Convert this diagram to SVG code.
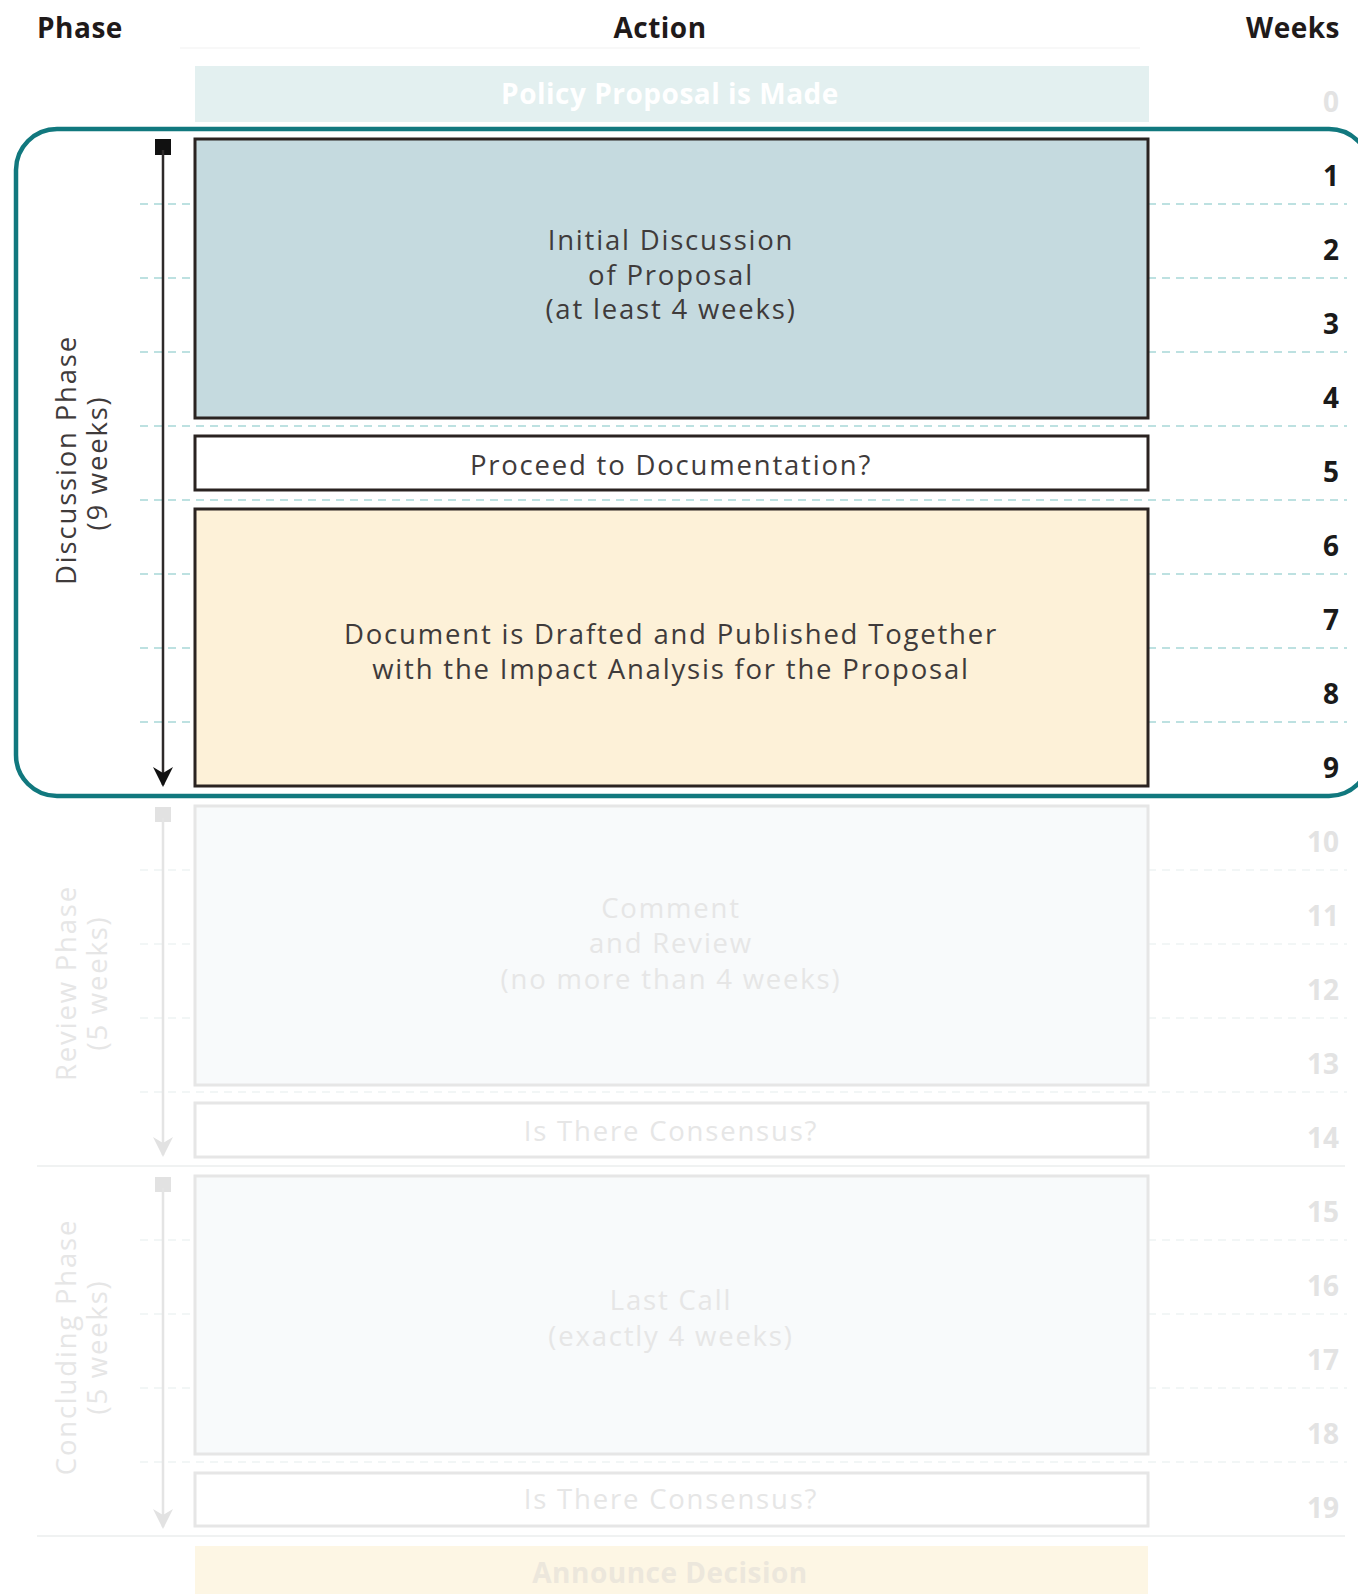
<svg xmlns="http://www.w3.org/2000/svg" width="1358" height="1594" viewBox="0 0 1358 1594">
<style>
.t{font-family:"Open Sans","Liberation Sans",sans-serif;font-size:27.5px;letter-spacing:1.8px;fill:#3f3b3b;text-anchor:middle}
.tf{fill:#e6e6e6}
.h{font-family:"Open Sans","Liberation Sans",sans-serif;font-weight:700;font-size:28px;letter-spacing:0.5px;fill:#1f1a1a}
.wk{font-family:"Open Sans","Liberation Sans",sans-serif;font-weight:700;font-size:28px;fill:#1a1a1a;text-anchor:end}
.wkf{fill:#e3e3e3}
.box{stroke:#2a2321;stroke-width:3}
.boxf{stroke:#e6e6e6;stroke-width:3}
.g{stroke:#a8d8d8;stroke-width:1.5;stroke-dasharray:8 6;fill:none}
.gf{stroke:#eef3f3;stroke-width:1.5;stroke-dasharray:8 6;fill:none}
.sep{stroke:#f0f2f2;stroke-width:2}
</style>
<defs>
<marker id="ah" viewBox="0 0 20 20" refX="18" refY="10" markerWidth="20" markerHeight="20" markerUnits="userSpaceOnUse" orient="auto">
<path d="M0,0 L6,10 L0,20 L20,10 Z" fill="#111"/>
</marker>
<marker id="ahf" viewBox="0 0 20 20" refX="18" refY="10" markerWidth="20" markerHeight="20" markerUnits="userSpaceOnUse" orient="auto">
<path d="M0,0 L6,10 L0,20 L20,10 Z" fill="#e2e2e2"/>
</marker>
</defs>
<rect width="1358" height="1594" fill="#fff"/>

<g id="headers">
<text class="h" x="37" y="38">Phase</text>
<text class="h" x="660" y="38" text-anchor="middle">Action</text>
<text class="h" x="1340" y="38" text-anchor="end">Weeks</text>
<line x1="180" y1="48" x2="1140" y2="48" stroke="#f8f8f8" stroke-width="2"/>
</g>

<g id="grid">
<path class="g" d="M140 204H193M1148 204H1347M140 278H193M1148 278H1347M140 352H193M1148 352H1347M140 426H1347M140 500H1347M140 574H193M1148 574H1347M140 648H193M1148 648H1347M140 722H193M1148 722H1347"/>
<path class="gf" d="M140 870H193M1148 870H1347M140 944H193M1148 944H1347M140 1018H193M1148 1018H1347M140 1092H1347M140 1240H193M1148 1240H1347M140 1314H193M1148 1314H1347M140 1388H193M1148 1388H1347M140 1462H1347"/>
<line class="sep" x1="37" y1="1166" x2="1345" y2="1166"/>
<line class="sep" x1="37" y1="1536" x2="1345" y2="1536"/>
</g>

<g id="weeks">
<text class="wk wkf" x="1339" y="112">0</text>
<text class="wk" x="1339" y="186">1</text>
<text class="wk" x="1339" y="260">2</text>
<text class="wk" x="1339" y="334">3</text>
<text class="wk" x="1339" y="408">4</text>
<text class="wk" x="1339" y="482">5</text>
<text class="wk" x="1339" y="556">6</text>
<text class="wk" x="1339" y="630">7</text>
<text class="wk" x="1339" y="704">8</text>
<text class="wk" x="1339" y="778">9</text>
<text class="wk wkf" x="1339" y="852">10</text>
<text class="wk wkf" x="1339" y="926">11</text>
<text class="wk wkf" x="1339" y="1000">12</text>
<text class="wk wkf" x="1339" y="1074">13</text>
<text class="wk wkf" x="1339" y="1148">14</text>
<text class="wk wkf" x="1339" y="1222">15</text>
<text class="wk wkf" x="1339" y="1296">16</text>
<text class="wk wkf" x="1339" y="1370">17</text>
<text class="wk wkf" x="1339" y="1444">18</text>
<text class="wk wkf" x="1339" y="1518">19</text>
</g>

<g id="policy">
<rect x="195" y="66" width="954" height="56" fill="#e3f0f0"/>
<text class="h" x="670" y="104" text-anchor="middle" style="fill:#fff">Policy Proposal is Made</text>
</g>

<g id="initial-discussion">
<rect class="box" x="195" y="139" width="953" height="279" fill="#c5dadf"/>
<text class="t" x="671" y="250">Initial Discussion</text>
<text class="t" x="671" y="284.5">of Proposal</text>
<text class="t" x="671" y="319">(at least 4 weeks)</text>
</g>

<g id="proceed">
<rect class="box" x="195" y="436" width="953" height="54" fill="#fff"/>
<text class="t" x="671" y="475">Proceed to Documentation?</text>
</g>

<g id="document">
<rect class="box" x="195" y="509" width="953" height="277" fill="#fdf1d8"/>
<text class="t" x="671" y="644">Document is Drafted and Published Together</text>
<text class="t" x="671" y="679">with the Impact Analysis for the Proposal</text>
</g>

<g id="comment-review">
<rect class="boxf" x="195" y="806" width="953" height="279" fill="#f8fafb"/>
<text class="t tf" x="671" y="918">Comment</text>
<text class="t tf" x="671" y="953">and Review</text>
<text class="t tf" x="671" y="989">(no more than 4 weeks)</text>
</g>

<g id="consensus-1">
<rect class="boxf" x="195" y="1103" width="953" height="54" fill="#fff"/>
<text class="t tf" x="671" y="1141">Is There Consensus?</text>
</g>

<g id="last-call">
<rect class="boxf" x="195" y="1176" width="953" height="278" fill="#f8fafb"/>
<text class="t tf" x="671" y="1310">Last Call</text>
<text class="t tf" x="671" y="1346">(exactly 4 weeks)</text>
</g>

<g id="consensus-2">
<rect class="boxf" x="195" y="1473" width="953" height="53" fill="#fff"/>
<text class="t tf" x="671" y="1509">Is There Consensus?</text>
</g>

<g id="announce">
<rect x="195" y="1546" width="953" height="60" fill="#fdf6e4"/>
<text class="h" x="670" y="1583" text-anchor="middle" style="fill:#ece7dc">Announce Decision</text>
</g>

<g id="discussion-phase">
<rect x="16" y="129" width="1354" height="667" rx="41" ry="41" fill="none" stroke="#11787e" stroke-width="4.5"/>
<text class="t" transform="translate(76,460) rotate(-90)">Discussion Phase</text>
<text class="t" transform="translate(107,463) rotate(-90)">(9 weeks)</text>
</g>

<g id="review-phase">
<text class="t tf" transform="translate(76,983) rotate(-90)">Review Phase</text>
<text class="t tf" transform="translate(107,983) rotate(-90)">(5 weeks)</text>
</g>

<g id="concluding-phase">
<text class="t tf" transform="translate(76,1347) rotate(-90)">Concluding Phase</text>
<text class="t tf" transform="translate(107,1347) rotate(-90)">(5 weeks)</text>
</g>

<g id="connectors">
<rect x="155" y="139" width="16" height="16" fill="#111"/>
<line x1="163" y1="150" x2="163" y2="785" stroke="#2e2a2a" stroke-width="2.5" marker-end="url(#ah)"/>
<rect x="155" y="807" width="16" height="15" fill="#e2e2e2"/>
<line x1="163" y1="818" x2="163" y2="1155" stroke="#e4e4e4" stroke-width="2.5" marker-end="url(#ahf)"/>
<rect x="155" y="1177" width="16" height="15" fill="#e2e2e2"/>
<line x1="163" y1="1188" x2="163" y2="1527" stroke="#e4e4e4" stroke-width="2.5" marker-end="url(#ahf)"/>
</g>
</svg>
